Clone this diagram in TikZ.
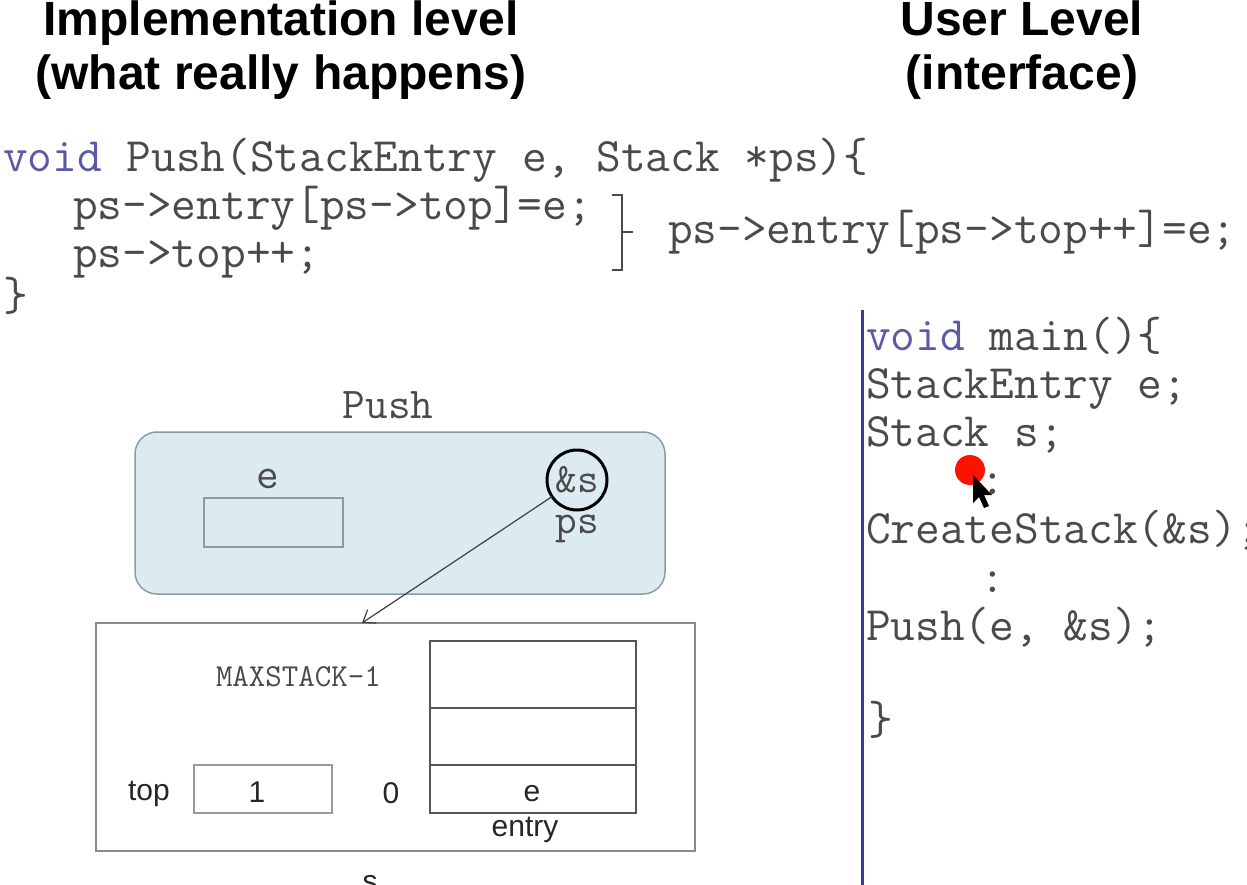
\documentclass[tikz,border=0pt]{standalone}
\usepackage{fontspec}
\setmainfont{Liberation Sans}
\usetikzlibrary{arrows.meta}
\definecolor{codegray}{HTML}{4A4A4A}
\definecolor{kwblue}{HTML}{5A5AA8}
\definecolor{boxfill}{HTML}{DCEBF1}
\definecolor{boxline}{HTML}{8E9CA2}
\definecolor{vline}{HTML}{3A3A98}
\definecolor{sline}{HTML}{8A8A8A}
\definecolor{cellline}{HTML}{555555}
\begin{document}
\begin{tikzpicture}[x=1pt,y=-1pt, inner sep=0pt, outer sep=0pt,
  heading/.style={font=\fontsize{48}{56}\selectfont\bfseries, text=black, anchor=base},
  code/.style={font=\fontsize{48}{54}\selectfont\ttfamily, text=codegray, anchor=base west},
  codec/.style={font=\fontsize{48}{54}\selectfont\ttfamily, text=codegray, anchor=base},
  monolbl/.style={font=\fontsize{44}{50}\selectfont\ttfamily, text=codegray, anchor=base},
  sanslbl/.style={font=\fontsize{30}{36}\selectfont, text=black!85, anchor=base},
  cell/.style={draw=cellline, line width=1.5pt, minimum width=206pt},
  bracketline/.style={draw=codegray, line width=1.8pt}]
\useasboundingbox[fill=white] (0,0) rectangle (1247,885);

% headings
\node[heading] (h1a) at (281,36) {Implementation level};
\node[heading] (h1b) at (281,90) {(what really happens)};
\node[heading] (h2a) at (1022,36) {User Level};
\node[heading] (h2b) at (1022,90) {(interface)};

% implementation code
\node[code] (l1) at (3,172) {\textcolor{kwblue}{void} Push(StackEntry e, Stack *ps)\{};
\node[code] (l2) at (73,220) {ps->entry[ps->top]=e;};
\node[code] (l3) at (73,268) {ps->top++;};
\node[code] (l4) at (3,310) {\}};
\node[code] (l5) at (668,244) {ps->entry[ps->top++]=e;};
\coordinate (bt) at (612,195);
\coordinate (bb) at (612,270);
\coordinate (bm) at (633,232);
\draw[bracketline] (bt) -- ++(10,0) |- (bb);
\draw[bracketline] (622,232) -- (bm);

% user level
\coordinate (vtop) at (862,310);
\coordinate (vbot) at (862,890);
\draw[vline, line width=3pt] (vtop) -- (vbot);
\node[code] (m1) at (866,350) {\textcolor{kwblue}{void} main()\{};
\node[code] (m2) at (866,398) {StackEntry e;};
\node[code] (m3) at (866,446) {Stack s;};
\node[codec] (m4) at (993,494) {:};
\node[code] (m5) at (866,543) {CreateStack(\&s);};
\node[codec] (m6) at (993,592) {:};
\node[code] (m7) at (866,640) {Push(e, \&s);};
\node[code] (m8) at (868,734) {\}};

% pointer marker
\fill[red!85!orange] (970,470) circle (15);
\fill[black] (973,475) -- (973,503) -- (979,497) -- (984,508) -- (989,506) -- (984,495) -- (992,495) -- cycle;

% Push frame
\node[monolbl] (pushlbl) at (388,418) {Push};
\node[draw=boxline, fill=boxfill, rounded corners=22pt, line width=1.5pt,
      minimum width=530pt, minimum height=162pt] (pushbox) at (400,513) {};
\node[monolbl] (elbl) at (268,488) {e};
\node[draw=boxline, line width=1.5pt, minimum width=139pt, minimum height=49pt] (ebox) at (273.5,522.5) {};
\node[circle, draw=black, line width=3pt, minimum size=60pt,
      font=\fontsize{42}{46}\selectfont\ttfamily, text=codegray] (ps) at (577,480) {\&s};
\node[monolbl, font=\fontsize{42}{46}\selectfont\ttfamily] (pslbl) at (577,533) {ps};

% stack s
\node[draw=sline, line width=2pt, minimum width=599pt, minimum height=228pt] (sbox) at (395.5,737) {};
\coordinate (tgt) at (362,623);
\draw[draw=black!75, line width=1.2pt, -{Straight Barb[length=11pt,width=16pt]}] (ps) -- (tgt);

\node[font=\fontsize{32}{36}\selectfont\ttfamily, text=codegray, anchor=base west] (maxl) at (216,686) {MAXSTACK-1};
\node[cell, minimum height=67pt] (row2) at (533,674.5) {};
\node[cell, minimum height=57pt] (row1) at (533,736.5) {};
\node[cell, minimum height=48pt] (row0) at (533,789) {};
\node[sanslbl] (etxt) at (532,801) {e};
\node[sanslbl] (entrylbl) at (525,836) {entry};
\node[sanslbl] (zero) at (391,803) {0};
\node[sanslbl] (toplbl) at (149,800) {top};
\node[draw=black!40, line width=1.5pt, minimum width=138pt, minimum height=48pt] (topbox) at (263,789) {};
\node[sanslbl] (one) at (257,802) {1};
\node[sanslbl] (slbl) at (370,891) {s};
\end{tikzpicture}
\end{document}
